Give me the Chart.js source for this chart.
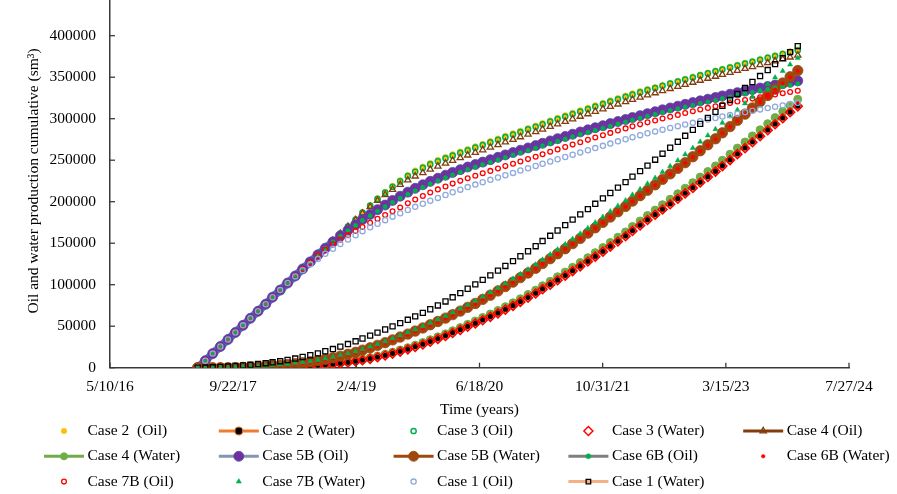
<!DOCTYPE html>
<html><head><meta charset="utf-8">
<script src="https://cdn.jsdelivr.net/npm/chart.js@4.4.1/dist/chart.umd.min.js"></script>
<style>
html,body{margin:0;padding:0;background:#fff;overflow:hidden;}
#wrap{position:relative;width:897px;height:494px;overflow:hidden;background:#fff;}
#box{position:absolute;left:0;top:-30px;width:897px;height:524px;}
</style></head><body>
<div id="wrap"><div id="box"><canvas id="c"></canvas></div></div>
<script>
// ---- categories (monthly report dates) ----
const DATES = ['2017-05','2017-06','2017-07','2017-08','2017-09','2017-10','2017-11','2017-12',
'2018-01','2018-02','2018-03','2018-04','2018-05','2018-06','2018-07','2018-08','2018-09','2018-10','2018-11','2018-12',
'2019-01','2019-02','2019-03','2019-04','2019-05','2019-06','2019-07','2019-08','2019-09','2019-10','2019-11','2019-12',
'2020-01','2020-02','2020-03','2020-04','2020-05','2020-06','2020-07','2020-08','2020-09','2020-10','2020-11','2020-12',
'2021-01','2021-02','2021-03','2021-04','2021-05','2021-06','2021-07','2021-08','2021-09','2021-10','2021-11','2021-12',
'2022-01','2022-02','2022-03','2022-04','2022-05','2022-06','2022-07','2022-08','2022-09','2022-10','2022-11','2022-12',
'2023-01','2023-02','2023-03','2023-04','2023-05','2023-06','2023-07','2023-08','2023-09','2023-10','2023-11','2023-12',
'2024-01'];

// ---- axis ticks ----
const X_TICK_SERIALS = [42500,43000,43500,44000,44500,45000,45500];
const X_TICK_LABELS = ['5/10/16','9/22/17','2/4/19','6/18/20','10/31/21','3/15/23','7/27/24'];
const Y_MIN = 0, Y_MAX = 450000, Y_STEP = 50000;

// ---- series values (sm3) ----
const CASE2_OIL = [0,8500,17000,25500,34000,42500,51000,59500,68000,76500,85000,93500,102000,110500,119000,127500,136000,144500,153000,161500,170000,178500,187000,195500,204000,211800,219100,225900,232100,237600,242400,246600,250400,253900,257200,260400,263500,266600,269700,272950,276100,279250,282400,285500,288600,291700,294800,297900,301000,304100,307150,310200,313200,316200,319200,322100,324950,327750,330500,333200,335850,338000,340600,343150,345700,348200,350650,353100,355500,357900,360250,362600,364950,367300,369600,371900,374200,376500,378800,381100,383400];
const CASE2_WATER = [0,10,20,30,40,50,60,70,80,90,100,200,500,900,1400,2000,2700,3500,4400,5400,6500,7800,9300,11000,12900,15000,17300,19800,22500,25400,28500,31800,35200,38700,42300,46000,49800,53700,57700,61800,66000,70400,75000,79800,84800,89900,95100,100400,105800,111300,116900,122600,128400,134300,140300,146400,152600,158900,165300,171800,178400,184700,191100,197500,204000,210500,217000,223600,230200,236800,243400,250600,257800,265000,272200,279400,286600,293800,301000,308200,315400];
const CASE3_OIL = [0,8500,17000,25500,34000,42500,51000,59500,68000,76500,85000,93500,102000,110500,119000,127500,136000,144500,153000,161500,170000,178500,187000,195300,203300,210900,218000,224600,230700,236000,240700,244900,248700,252200,255500,258800,262000,265150,268300,271450,274600,277750,280900,284000,287100,290200,293300,296400,299500,302600,305650,308700,311700,314700,317700,320600,323450,326250,329000,331700,334350,337000,339600,342150,344700,347200,349650,352100,354500,356900,359250,361600,363950,366300,368600,370900,373200,375500,377800,380100,382400];
const CASE3_WATER = [0,0,10,20,30,40,50,60,70,80,90,100,400,800,1300,1800,2500,3300,4200,5200,6300,7600,9000,10700,12600,14700,17000,19400,22100,24900,28000,31300,34700,38200,41800,45500,49300,53200,57200,61300,65500,69900,74500,79300,84300,89400,94600,99900,105300,110800,116400,122100,127900,133800,139800,145900,152100,158400,164800,171300,177900,184200,190600,197000,203500,210000,216500,223100,229700,236300,242900,250100,257300,264500,271700,278900,286100,293300,300500,307700,314900];
const CASE4_OIL = [0,8500,17000,25500,34000,42500,51000,59500,68000,76500,85000,93500,102000,110500,119000,127500,136000,144500,153000,161500,170000,178000,186000,193800,201300,208200,214600,220600,226000,230700,234700,238900,242700,246200,249500,252800,256000,259150,262300,265450,268600,271750,274900,278000,281100,284200,287300,290400,293500,296600,299650,302700,305700,308700,311700,314600,317450,320250,323000,325700,328350,331000,333600,336150,338700,341200,343650,346100,348500,350900,353250,355600,357950,360300,362600,364900,367200,369500,371800,374100,376400];
const CASE4_WATER = [0,20,40,60,80,100,120,140,160,180,200,500,850,1300,1850,2500,3250,4100,5050,6100,7300,8700,10300,12100,14100,16300,18700,21300,24100,27100,30300,33700,37200,40800,44500,48300,52250,56300,60450,64700,69000,73500,78200,83100,88200,93400,98700,104100,109600,115200,120900,126700,132600,138600,144700,150900,157200,163600,170100,176700,183400,189850,196400,202950,209600,216250,222900,229650,236400,243150,249900,257250,264600,271950,279300,286650,294000,301350,308700,316050,323400];
const CASE5B_OIL = [0,8500,17000,25500,34000,42500,51000,59500,68000,76500,85000,93500,102000,110500,119000,127500,136000,144000,151600,158800,165700,172300,178600,184600,190400,196000,201400,206600,211500,216100,220400,224500,228300,231900,235300,238600,241800,244800,247700,250600,253500,256400,259200,262000,264800,267600,270400,273200,275900,278600,281300,284000,286600,289100,291600,294100,296600,299000,301400,303700,306100,308400,310700,312900,315100,317300,319400,321500,323500,325500,327500,329500,331400,333300,335100,336900,338700,340500,342200,343900,345600];
const CASE5B_WATER = [0,20,40,60,80,100,350,700,1150,1700,2350,3100,3950,4900,5950,7150,8550,10150,11950,13950,16150,18550,21150,23950,26950,30150,33500,36950,40500,44150,47900,51750,55700,59750,63900,68200,72700,77400,82300,87350,92500,97750,103100,108550,114100,119750,125500,131350,137300,143350,149500,155750,162100,168550,175100,181550,187900,194300,200750,207250,213750,220300,226900,233500,240100,247000,254200,261400,268600,275800,283000,290500,298000,305500,313000,320500,328000,335500,343000,350500,358000];
const CASE6B_OIL = [0,8500,17000,25500,34000,42500,51000,59500,68000,76500,85000,93500,102000,110500,119000,127500,136000,144000,151600,158500,165100,171400,177400,183100,188600,194000,199200,204200,208900,213300,217400,221500,225300,228900,232300,235600,238800,241800,244700,247600,250500,253400,256200,259000,261800,264600,267400,270200,272900,275600,278300,281000,283600,286100,288600,291100,293600,296000,298400,300700,303100,305300,307600,309800,312000,314100,316200,318300,320300,322300,324300,326200,328100,330000,331800,333600,335400,337100,338800,340500,342100];
const CASE6B_WATER = [0,10,30,50,70,90,300,600,1000,1500,2100,2800,3600,4500,5500,6700,8100,9700,11500,13500,15700,18100,20700,23500,26500,29700,33000,36500,40000,43700,47400,51300,55200,59300,63400,67700,72200,76900,81800,86900,92000,97300,102600,108100,113600,119300,125000,130900,136800,142900,149000,155300,161600,168100,174600,181100,187400,193800,200300,206800,213300,219800,226400,233000,239600,246500,253700,260900,268100,275300,282500,290000,297500,305000,312500,320000,327500,335000,342500,350000,357500];
const CASE7B_OIL = [0,8500,17000,25500,34000,42500,51000,59500,68000,76500,85000,93500,102000,110500,119000,127000,135000,142000,148600,154300,159700,164800,169600,174600,179400,184000,188400,193100,198000,202600,206900,211000,214800,218400,221800,225100,228300,231300,234200,237100,240000,242900,245700,248500,251300,254100,257100,260100,263000,265900,268800,271700,274500,277300,280100,282900,285700,288300,290800,293200,295600,297900,300200,302400,304600,306800,308900,311000,313000,315000,317000,318900,320700,322500,324200,325900,327500,329100,330600,332100,333600];
const CASE7B_WATER = [0,70,140,210,280,350,650,1050,1550,2150,2850,3650,4550,5550,6650,7900,9350,11000,12850,14900,17150,19650,22350,25250,28350,31650,35100,38650,42300,46050,49900,53900,58000,62200,66500,70950,75600,80450,85500,90700,96000,101450,107000,112650,118400,124250,130200,136250,142400,148650,155000,161500,168100,174800,181600,188300,194900,201550,208250,215000,221750,228700,235700,242700,249700,257000,264600,272200,279800,287400,295000,302800,310600,318400,326200,334000,341800,349600,357400,365200,373000];
const CASE1_OIL = [0,8500,17000,25500,34000,42500,51000,59500,68000,76500,85000,93500,102000,110000,117500,124500,131000,137200,143200,148900,154400,159600,164500,169100,173500,177800,182000,186100,190000,193800,197500,201100,204600,208000,211300,214500,217600,220600,223500,226300,229100,231900,234700,237500,240300,243000,245700,248400,251100,253800,256500,259200,261900,264600,267300,270000,272700,275300,277800,280200,282500,284700,286800,288900,291000,293000,295000,297000,298900,300800,302600,304400,306100,307800,309500,311200,312800,314400,316000,317600,319200];
const CASE1_WATER = [0,200,500,900,1400,2000,2700,3500,4400,5400,6500,7800,9300,11000,12900,15000,17300,19800,22500,25400,28500,31800,35200,38700,42300,46000,49800,53700,57700,61800,66000,70400,75000,79800,84800,89900,95100,100400,105800,111300,116900,122600,128400,134300,140300,146400,152600,158900,165300,171800,178400,184700,191100,197500,204000,210500,217000,223600,230200,236800,243400,250600,257800,265000,272200,279400,286600,293800,301000,308200,315400,322600,329800,337000,344200,351400,358600,365800,373000,380200,387400];

// ---- helpers ----
const OFF = 30; // canvas shifted up so the 450000 label is cut like the reference
function serialOf(ym){ const [y,m] = ym.split('-').map(Number); return Date.UTC(y, m-1, 1)/86400000 + 25569; }
const XS = DATES.map(serialOf);
const pts = arr => arr.map((v,i) => ({x: XS[i], y: v}));
const T = 'rgba(0,0,0,0)';
const AX = '#3a3a3a';
const FONT = "'Liberation Serif', 'Times New Roman', serif";

// early contiguous stretch where the plotted line is visible (ramp band)
const EARLY_LINE_LAST = 18;

const series = [
 {label:'Case 2  (Oil)',    data:CASE2_OIL,    ps:'circle',   r:2.8, bg:'#FFC000', bc:'#FFC000', bw:0.5},
 {label:'Case 2 (Water)',   data:CASE2_WATER,  ps:'circle',   r:3.2, bg:'#000000', bc:'#ED7D31', bw:1.2, line:'#ED7D31', lr:4},
 {label:'Case 3 (Oil)',     data:CASE3_OIL,    ps:'circle',   r:2.6, bg:T,         bc:'#00B050', bw:1.5},
 {label:'Case 3 (Water)',   data:CASE3_WATER,  ps:'rectRot',  r:4.5, bg:T,         bc:'#FF0000', bw:1.5},
 {label:'Case 4 (Oil)',     data:CASE4_OIL,    ps:'triangle', r:3.6, bg:T,         bc:'#843C0C', bw:1.3, line:'#843C0C'},
 {label:'Case 4 (Water)',   data:CASE4_WATER,  ps:'circle',   r:4.0, bg:'#70AD47', bc:'#70AD47', bw:1, line:'#70AD47', lr:3.5, ord:13.5},
 {label:'Case 5B (Oil)',    data:CASE5B_OIL,   ps:'circle',   r:5.0, bg:'#7030A0', bc:'#4F4FA0', bw:0.8, line:'#8497B0', lr:5, band:'#6776B6'},
 {label:'Case 5B (Water)',  data:CASE5B_WATER, ps:'circle',   r:5.2, bg:'#9E480E', bc:'#9E480E', bw:0.8, line:'#9E480E', lr:5},
 {label:'Case 6B (Oil)',    data:CASE6B_OIL,   ps:'circle',   r:2.2, bg:'#00B050', bc:'#00B050', bw:0.5, line:'#7F7F7F', lr:2.5},
 {label:'Case 6B (Water)',  data:CASE6B_WATER, ps:'circle',   r:1.8, bg:'#FF0000', bc:'#FF0000', bw:0.5},
 {label:'Case 7B (Oil)',    data:CASE7B_OIL,   ps:'circle',   r:2.4, bg:T,         bc:'#FF0000', bw:1.3},
 {label:'Case 7B (Water)',  data:CASE7B_WATER, ps:'triangle', r:3.0, bg:'#00B050', bc:'#00B050', bw:0.5},
 {label:'Case 1 (Oil)',     data:CASE1_OIL,    ps:'circle',   r:2.6, bg:T,         bc:'#8FAADC', bw:1.3},
 {label:'Case 1 (Water)',   data:CASE1_WATER,  ps:'rect',     r:3.6, bg:T,         bc:'#000000', bw:1.3, line:'#F4B183', lr:3.2}
];

const datasets = series.map((s,k) => {
  const d = {
    label: s.label, data: pts(s.data), showLine: !!s.band,
    pointStyle: s.ps, pointRadius: s.r, pointHoverRadius: s.r,
    pointBackgroundColor: s.bg, pointBorderColor: s.bc, pointBorderWidth: s.bw,
    order: s.ord !== undefined ? s.ord : series.length - k,
    _legendLine: s.line || null, _legendR: s.lr || s.r
  };
  if (s.band){
    d.borderWidth = 8; d.borderColor = s.band; d.borderCapStyle = 'round';
    d.segment = { borderColor: c => c.p1DataIndex <= EARLY_LINE_LAST ? s.band : T };
  }
  return d;
});

const insideTicks = {
  id: 'insideTicks',
  afterDraw(chart){
    const {ctx, chartArea:a, scales:{x, y}} = chart;
    ctx.save(); ctx.strokeStyle = AX; ctx.lineWidth = 1.3;
    x.ticks.forEach(t => { const p = x.getPixelForValue(t.value); ctx.beginPath(); ctx.moveTo(p, a.bottom); ctx.lineTo(p, a.bottom-5); ctx.stroke(); });
    y.ticks.forEach(t => { const p = y.getPixelForValue(t.value); ctx.beginPath(); ctx.moveTo(a.left, p); ctx.lineTo(a.left+5, p); ctx.stroke(); });
    ctx.restore();
  }
};

const gridLegend = {
  id: 'gridLegend',
  afterDraw(chart){
    const ctx = chart.ctx;
    ctx.save();
    chart.data.datasets.forEach((d,k) => {
      const col = k % 5, row = Math.floor(k/5);
      const mx = 64 + col*174.8, my = OFF + 431 + row*25.3;
      if (d._legendLine){
        ctx.strokeStyle = d._legendLine; ctx.lineWidth = 3; ctx.lineCap = 'butt';
        ctx.beginPath(); ctx.moveTo(mx-20, my); ctx.lineTo(mx+20, my); ctx.stroke();
      }
      ctx.fillStyle = d.pointBackgroundColor; ctx.strokeStyle = d.pointBorderColor; ctx.lineWidth = d.pointBorderWidth;
      Chart.helpers.drawPoint(ctx, {pointStyle: d.pointStyle, radius: d._legendR, borderWidth: d.pointBorderWidth, rotation: 0}, mx, my);
      ctx.fillStyle = '#000'; ctx.font = "15.5px " + FONT; ctx.textBaseline = 'middle'; ctx.textAlign = 'left';
      ctx.fillText(d.label, mx + 23.5, my);
    });
    ctx.restore();
  }
};

Chart.defaults.font.family = FONT;
Chart.defaults.font.size = 15.5;
Chart.defaults.color = '#000';

new Chart(document.getElementById('c'), {
  type: 'scatter',
  data: { datasets },
  options: {
    responsive: true, maintainAspectRatio: false, animation: false,
    layout: { padding: { top: 24.2, left: 0, right: 48, bottom: 66.3 } },
    plugins: { legend: { display: false }, tooltip: { enabled: false } },
    scales: {
      x: {
        type: 'linear', min: X_TICK_SERIALS[0], max: X_TICK_SERIALS[X_TICK_SERIALS.length-1],
        afterBuildTicks: s => { s.ticks = X_TICK_SERIALS.map(v => ({value: v})); },
        afterFit: s => { s.height = 60; },
        grid: { display: false, drawTicks: false },
        border: { display: true, color: AX, width: 1.5 },
        ticks: { padding: 10, maxRotation: 0, autoSkip: false,
          callback: v => X_TICK_LABELS[X_TICK_SERIALS.indexOf(v)] },
        title: { display: true, text: 'Time (years)', padding: { top: 0, bottom: 8.4 } }
      },
      y: {
        type: 'linear', min: Y_MIN, max: Y_MAX,
        ticks: { stepSize: Y_STEP, padding: 14, callback: v => String(v) },
        afterFit: s => { s.width = 110; },
        grid: { display: false, drawTicks: false },
        border: { display: true, color: AX, width: 1.5 },
        title: { display: true, text: 'Oil and water production cumulative (sm³)', padding: { top: 24.2, bottom: 0 } }
      }
    }
  },
  plugins: [insideTicks, gridLegend]
});
</script>
</body></html>
